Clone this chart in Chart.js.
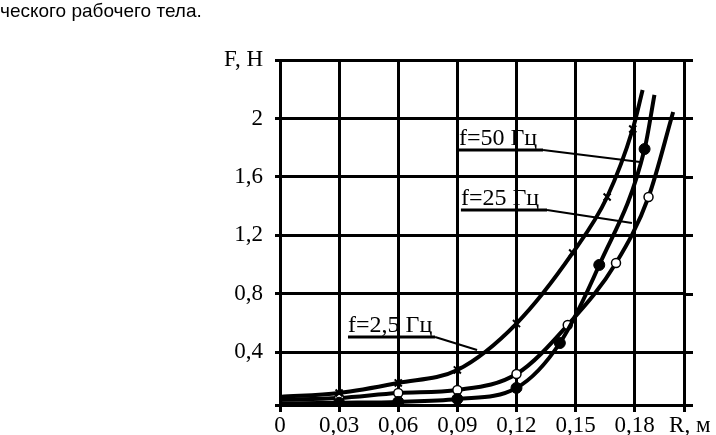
<!DOCTYPE html>
<html>
<head>
<meta charset="utf-8">
<script src="https://cdn.jsdelivr.net/npm/chart.js@4.4.1/dist/chart.umd.min.js"></script>
<style>
  html, body { margin: 0; padding: 0; background: #fff; }
  #wrap { position: relative; width: 716px; height: 435px; }
  #caption {
    position: absolute; left: 0; top: 1px;
    font: 19px 'Liberation Sans', Arial, sans-serif; line-height: 19px;
    color: #000; white-space: nowrap;
  }
</style>
</head>
<body>
<div id="wrap">
  <canvas id="chart" width="716" height="435"></canvas>
  <div id="caption">ческого рабочего тела.</div>
</div>
<script>
// R, м  /  F, Н
const r50 = [0, 0.03, 0.06, 0.09, 0.12, 0.1485, 0.166, 0.179, 0.184];
const f50 = [0.095, 0.122, 0.191, 0.28, 0.597, 1.08, 1.463, 1.928, 2.195];

const r25 = [0, 0.03, 0.06, 0.09, 0.12, 0.142, 0.162, 0.185, 0.19];
const f25 = [0.05, 0.055, 0.061, 0.081, 0.157, 0.464, 0.998, 1.791, 2.161];

const r2_5 = [0, 0.03, 0.06, 0.09, 0.12, 0.146, 0.1705, 0.187, 0.1995];
const f2_5 = [0.075, 0.088, 0.122, 0.143, 0.252, 0.587, 1.011, 1.463, 2.044];

const seriesNames = ['f=50 Гц', 'f=25 Гц', 'f=2,5 Гц'];

const rTicks = [0, 0.03, 0.06, 0.09, 0.12, 0.15, 0.18, 0.205];
const rTickLabels = ['0', '0,03', '0,06', '0,09', '0,12', '0,15', '0,18', '  R, м'];
const fTicks = [0.04, 0.4, 0.8, 1.2, 1.6, 2.0, 2.4];
const fTickLabels = ['', '0,4', '0,8', '1,2', '1,6', '2', 'F, Н'];

const serif = "'Liberation Serif', 'Times New Roman', serif";

function pts(xs, ys) {
    return xs.map((x, i) => ({ x: x, y: ys[i] }));
}

// no marker on the first and last point of each curve
function markerSize(size) {
    return (c) => (c.dataIndex === 0 || c.dataIndex === c.dataset.data.length - 1) ? 0 : size;
}

// callout leaders: underline start, underline end, pointer tip (in data units)
const callouts = [
    { r: [0.0908, 0.1335, 0.1827], f: [1.784, 1.784, 1.702] },
    { r: [0.0918, 0.1355, 0.1786], f: [1.374, 1.374, 1.285] },
    { r: [0.0345, 0.0787, 0.100], f: [0.505, 0.505, 0.416] }
];

const calloutPlugin = {
    id: 'callouts',
    beforeDatasetsDraw(chart) {
        const { ctx, scales: { x, y } } = chart;
        ctx.save();
        ctx.strokeStyle = '#000';
        ctx.fillStyle = '#000';

        // horizontal grid lines run a little past the right border
        ctx.lineWidth = 3;
        y.ticks.forEach(t => {
            const py = Math.round(y.getPixelForValue(t.value)) + 0.5;
            ctx.beginPath();
            ctx.moveTo(chart.chartArea.right, py);
            ctx.lineTo(chart.chartArea.right + 9, py);
            ctx.stroke();
        });

        ctx.font = '24px ' + serif;
        ctx.textBaseline = 'alphabetic';
        callouts.forEach((c, i) => {
            const x0 = x.getPixelForValue(c.r[0]), y0 = y.getPixelForValue(c.f[0]);
            const x1 = x.getPixelForValue(c.r[1]), y1 = y.getPixelForValue(c.f[1]);
            const x2 = x.getPixelForValue(c.r[2]), y2 = y.getPixelForValue(c.f[2]);
            ctx.lineWidth = 3;
            ctx.beginPath();
            ctx.moveTo(x0, y0);
            ctx.lineTo(x1, y1);
            ctx.stroke();
            ctx.lineWidth = 2;
            ctx.beginPath();
            ctx.moveTo(x1, y1);
            ctx.lineTo(x2, y2);
            ctx.stroke();
            ctx.fillText(seriesNames[i], x0, y0 - 5);
        });
        ctx.restore();
    }
};

const ctx = document.getElementById('chart');

const chart = new Chart(ctx, {
    type: 'line',
    data: {
        datasets: [{
            label: seriesNames[0],
            data: pts(r50, f50),
            borderColor: '#000',
            borderWidth: 4,
            pointStyle: 'crossRot',
            pointRadius: markerSize(5),
            pointBorderWidth: 2,
            pointBorderColor: '#000',
            pointBackgroundColor: '#000',
            cubicInterpolationMode: 'monotone'
        }, {
            label: seriesNames[1],
            data: pts(r25, f25),
            borderColor: '#000',
            borderWidth: 4,
            pointStyle: 'circle',
            pointRadius: markerSize(5.5),
            pointBorderWidth: 1,
            pointBorderColor: '#000',
            pointBackgroundColor: '#000',
            cubicInterpolationMode: 'monotone'
        }, {
            label: seriesNames[2],
            data: pts(r2_5, f2_5),
            borderColor: '#000',
            borderWidth: 4,
            pointStyle: 'circle',
            pointRadius: markerSize(4.5),
            pointBorderWidth: 1.5,
            pointBorderColor: '#000',
            pointBackgroundColor: '#fff',
            cubicInterpolationMode: 'monotone'
        }]
    },
    options: {
        responsive: false,
        animation: false,
        devicePixelRatio: 1,
        layout: {
            padding: { top: 60, right: 32, left: 0, bottom: 0 }
        },
        plugins: {
            legend: { display: false },
            tooltip: { enabled: false }
        },
        scales: {
            x: {
                type: 'linear',
                min: 0,
                max: 0.205,
                afterBuildTicks: (s) => { s.ticks = rTicks.map(v => ({ value: v })); },
                afterFit: (s) => { s.height = 30; },
                ticks: {
                    callback: (v, i) => rTickLabels[i],
                    autoSkip: false,
                    maxRotation: 0,
                    padding: 0,
                    color: '#000',
                    font: { family: serif, size: 23 }
                },
                grid: { color: '#000', lineWidth: 3, tickLength: 7 },
                border: { display: true, color: '#000', width: 3 }
            },
            y: {
                type: 'linear',
                min: 0.04,
                max: 2.4,
                afterBuildTicks: (s) => { s.ticks = fTicks.map(v => ({ value: v })); },
                afterFit: (s) => { s.width = 280; },
                ticks: {
                    callback: (v, i) => fTickLabels[i],
                    autoSkip: false,
                    padding: 12,
                    color: '#000',
                    font: { family: serif, size: 23 }
                },
                grid: { color: '#000', lineWidth: 3, tickLength: 5 },
                border: { display: true, color: '#000', width: 3 }
            }
        }
    },
    plugins: [calloutPlugin]
});
</script>
</body>
</html>
